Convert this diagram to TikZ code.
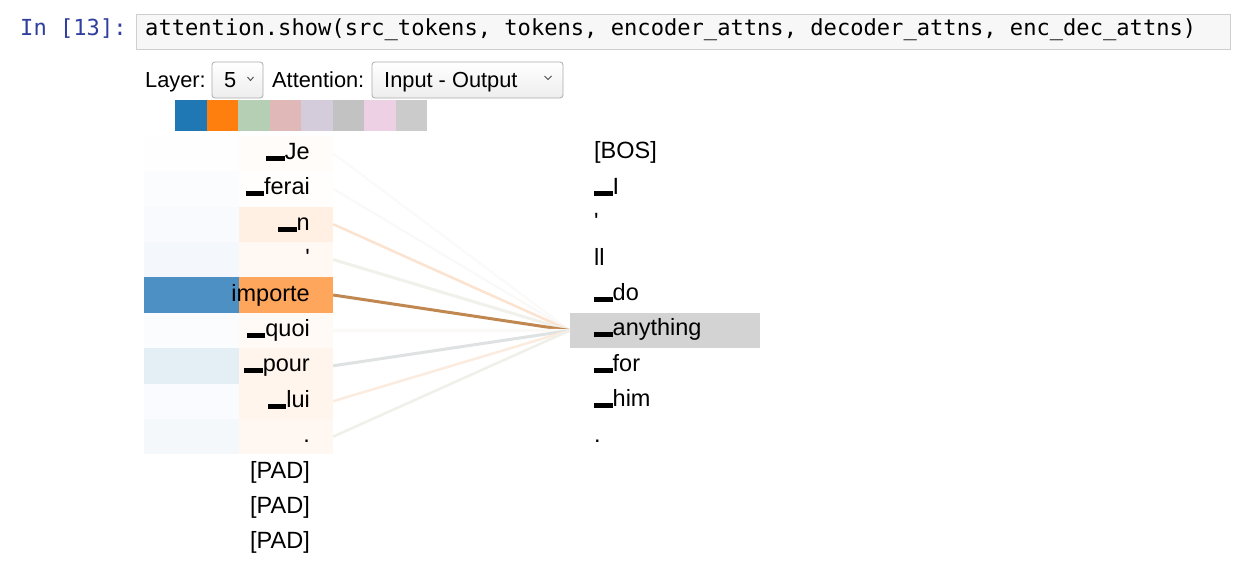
\documentclass[tikz,border=0pt]{standalone}
\usepackage{fontspec}
\setmainfont{Liberation Sans}
\newfontfamily\codefont{DejaVu Sans Mono}
\usetikzlibrary{calc}
\definecolor{prompt}{HTML}{303F9F}
\definecolor{cellborder}{HTML}{CFCFCF}
\definecolor{cellfill}{HTML}{F7F7F7}
\definecolor{selborder}{HTML}{ABABAB}
\definecolor{hlgray}{HTML}{D3D3D3}
\definecolor{swA}{HTML}{1F77B4}
\definecolor{swB}{HTML}{FF7F0E}
\definecolor{swC}{HTML}{B5CFB5}
\definecolor{swD}{HTML}{E0B8B8}
\definecolor{swE}{HTML}{D4CCDB}
\definecolor{swF}{HTML}{C2C2C2}
\definecolor{swG}{HTML}{EDD0E3}
\definecolor{swH}{HTML}{CBCBCB}
% blue cells
\definecolor{bA}{HTML}{FEFEFF}
\definecolor{bB}{HTML}{FBFCFE}
\definecolor{bC}{HTML}{F8FAFE}
\definecolor{bD}{HTML}{F4F8FC}
\definecolor{bE}{HTML}{4C90C4}
\definecolor{bF}{HTML}{FBFCFE}
\definecolor{bG}{HTML}{E4EEF5}
\definecolor{bH}{HTML}{FAFBFE}
\definecolor{bI}{HTML}{F4F8FB}
% orange cells
\definecolor{oA}{HTML}{FFFCFA}
\definecolor{oB}{HTML}{FFFEFD}
\definecolor{oC}{HTML}{FFF0E3}
\definecolor{oD}{HTML}{FFF8F3}
\definecolor{oE}{HTML}{FFA65D}
\definecolor{oF}{HTML}{FFFAF6}
\definecolor{oG}{HTML}{FFF5ED}
\definecolor{oH}{HTML}{FFF5EC}
\definecolor{oI}{HTML}{FFF7F2}
% lines
\definecolor{lA}{HTML}{FBFAF8}
\definecolor{lB}{HTML}{FAF9F8}
\definecolor{lC}{HTML}{FBE3D0}
\definecolor{lD}{HTML}{F1F1EC}
\definecolor{lE}{HTML}{C08850}
\definecolor{lF}{HTML}{FBF9F6}
\definecolor{lG}{HTML}{DFE2E2}
\definecolor{lH}{HTML}{FBECDF}
\definecolor{lI}{HTML}{F0F0EA}
\newcommand\ubar{\rule[-1.5pt]{18.5pt}{5pt}}
\newcommand\tokfont{\fontsize{23.5}{28}\selectfont}
\newcommand\ctlfont{\fontsize{21.8}{26}\selectfont}
\tikzset{
  cellbox/.style={rectangle, draw=none, inner sep=0pt, minimum height=35.4pt},
  lefttok/.style={anchor=base east, inner sep=0pt, font=\tokfont},
  righttok/.style={anchor=base west, inner sep=0pt, font=\tokfont},
  swatch/.style={rectangle, draw=none, inner sep=0pt, minimum width=31.55pt, minimum height=31pt},
  selectbox/.style={draw=selborder, rounded corners=3pt, top color=white, bottom color=black!7, line width=0.8pt},
  chev/.style={draw=black!70, line width=0.9pt},
  attn/.style={line width=#1},
}
\begin{document}
\begin{tikzpicture}[x=1pt,y=-1pt]
\useasboundingbox (0,0) rectangle (1245,565);
\fill[white] (0,0) rectangle (1245,565);
% code cell
\node[rectangle, draw=cellborder, fill=cellfill, line width=0.8pt, minimum width=1094pt, minimum height=35pt, inner sep=0pt] (cell) at (683,31.5) {};
\node[anchor=base west, inner sep=0pt, font=\codefont\fontsize{22.1}{26}\selectfont, text=prompt] (prompt) at (20,35) {In [13]:};
\node[anchor=base west, inner sep=0pt, font=\codefont\fontsize{22.1}{26}\selectfont] (code) at (145,35) {attention.show(src\_tokens, tokens, encoder\_attns, decoder\_attns, enc\_dec\_attns)};
% controls
\node[anchor=base west, inner sep=0pt, font=\ctlfont] (layerlbl) at (145,87) {Layer:};
\draw[selectbox] (212,62) rectangle (263,98);
\node[anchor=base west, inner sep=0pt, font=\ctlfont] (layerval) at (224,87) {5};
\draw[chev] (247.5,77) -- (250.5,80.5) -- (253.5,77);
\node[anchor=base west, inner sep=0pt, font=\ctlfont] (attnlbl) at (272,87) {Attention:};
\draw[selectbox] (372,62) rectangle (563,98);
\node[anchor=base west, inner sep=0pt, font=\ctlfont] (attnval) at (384,87) {Input - Output};
\draw[chev] (544.5,76) -- (548,79.5) -- (551.5,76);
% swatches
\foreach \c [count=\i from 0] in {swA,swB,swC,swD,swE,swF,swG,swH}
  \node[swatch, fill=\c] (sw\i) at ({175+31.55*\i+15.775},115.8) {};
% heat cells
\foreach \bc/\oc [count=\i from 0] in {bA/oA,bB/oB,bC/oC,bD/oD,bE/oE,bF/oF,bG/oG,bH/oH,bI/oI}{
  \node[cellbox, fill=\bc, minimum width=95pt] (bc\i) at (191.5,{153.4+35.4*\i}) {};
  \node[cellbox, fill=\oc, minimum width=94pt] (oc\i) at (286,{153.4+35.4*\i}) {};
}
% highlight target
\node[rectangle, fill=hlgray, inner sep=0pt, minimum width=190pt, minimum height=35.6pt] (hl) at (665,330.5) {};
% attention lines
\foreach \lc/\w [count=\i from 0] in {lA/2,lB/2,lC/2.5,lD/3,lE/3,lF/3,lG/3,lH/2.5,lI/2.5}
  \draw[attn=\w pt, draw=\lc] (oc\i.east) -- (hl.west);
% left tokens
\foreach \t [count=\i from 0] in {\ubar Je,\ubar ferai,\ubar n,\textquotesingle,importe,\ubar quoi,\ubar pour,\ubar lui,.,[PAD],[PAD],[PAD]}
  \node[lefttok] (lt\i) at (310,{159.5+35.4*\i}) {\t};
% right tokens
\foreach \t [count=\i from 0] in {[BOS],\ubar I,\textquotesingle,ll,\ubar do,\ubar anything,\ubar for,\ubar him,.}
  \node[righttok] (rt\i) at (594,{158.8+35.4*\i}) {\t};
\end{tikzpicture}
\end{document}
